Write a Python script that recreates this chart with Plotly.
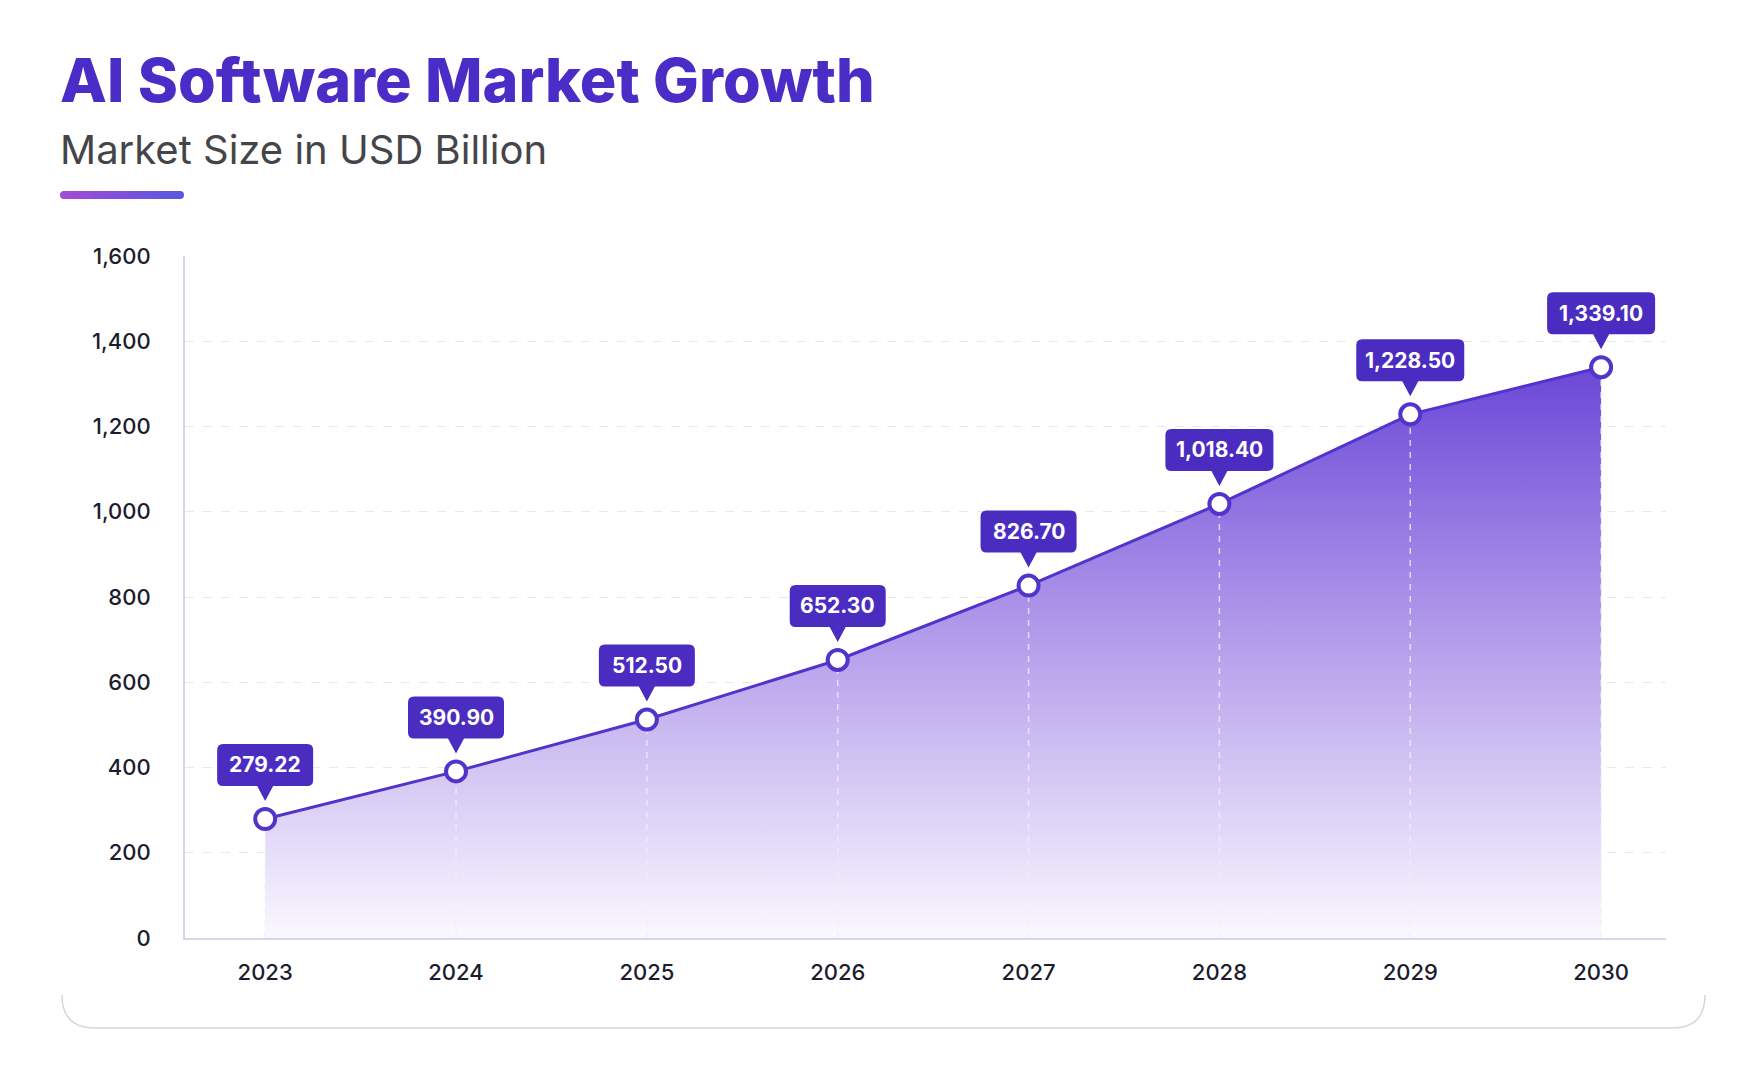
import plotly.graph_objects as go

# Data
years = [2023, 2024, 2025, 2026, 2027, 2028, 2029, 2030]
market_size = [279.22, 390.90, 512.50, 652.30, 826.70, 1018.40, 1228.50, 1339.10]
y_ticks = [0, 200, 400, 600, 800, 1000, 1200, 1400, 1600]

title_text = "AI Software Market Growth"
subtitle_text = "Market Size in USD Billion"

# Colours
purple_title = "#4a2cc6"
purple_line = "#5134cc"
purple_label = "#4a2cc0"
tick_color = "#1c1c2e"
axis_color = "#d8d4ee"
grid_color = "#e8e8ef"

# Page geometry. The page body adds an 8px margin, so the figure is a bit
# smaller than the window and every page position is shifted back by OFF.
OFF = 8
W, H = 1748, 1064
plot_left, plot_right, plot_top, plot_bottom = 185, 1666, 256, 938
L = plot_left - OFF
T = plot_top - OFF
R = W - (plot_right - OFF)
B = H - (plot_bottom - OFF)
PW = W - L - R
PH = H - T - B


def fx(p):
    # page x pixel -> paper fraction
    return (p - OFF - L) / PW


def fy(p):
    # page y pixel -> paper fraction
    return (H - B - (p - OFF)) / PH


fig = go.Figure()

# gradient area under the line
fig.add_trace(go.Scatter(
    x=years, y=market_size,
    mode="none",
    fill="tozeroy",
    fillgradient=dict(
        type="vertical",
        colorscale=[[0, "#faf8ff"], [0.3, "#d2c5f3"], [0.65, "#a286e6"], [1, "#6b47d7"]],
        start=0, stop=max(market_size),
    ),
    hoverinfo="skip",
    showlegend=False,
))

# dashed drop lines from each point
drop_x, drop_y = [], []
for yr, v in zip(years, market_size):
    drop_x += [yr, yr, None]
    drop_y += [0, v, None]
fig.add_trace(go.Scatter(
    x=drop_x, y=drop_y,
    mode="lines",
    line=dict(color="rgba(240,238,250,0.8)", width=1.5, dash="6px,6px"),
    hoverinfo="skip",
    showlegend=False,
))

# line with ring markers
fig.add_trace(go.Scatter(
    x=years, y=market_size,
    mode="lines+markers",
    line=dict(color=purple_line, width=3),
    marker=dict(size=20, color="white", line=dict(color=purple_line, width=4)),
    showlegend=False,
))

shapes = []
annotations = []

# callout labels
for yr, v in zip(years, market_size):
    label = f"{v:,.2f}"
    w = 60 + 6 * len(label)
    hw = w / 2
    r = 6
    top, bot, tip, pw = 75, 33, 18, 8
    path = (
        f"M {-hw + r},{top} L {hw - r},{top} Q {hw},{top} {hw},{top - r} "
        f"L {hw},{bot + r} Q {hw},{bot} {hw - r},{bot} "
        f"L {pw},{bot} L 0,{tip} L {-pw},{bot} "
        f"L {-hw + r},{bot} Q {-hw},{bot} {-hw},{bot + r} "
        f"L {-hw},{top - r} Q {-hw},{top} {-hw + r},{top} Z"
    )
    shapes.append(dict(
        type="path", path=path,
        xref="x", yref="y",
        xsizemode="pixel", ysizemode="pixel",
        xanchor=yr, yanchor=v,
        fillcolor=purple_label, line=dict(width=0),
        layer="above",
    ))
    annotations.append(dict(
        x=yr, y=v, xref="x", yref="y",
        text=label, showarrow=False,
        yshift=54,
        font=dict(family="Inter", size=21, color="white", weight=700),
    ))

# title and subtitle
annotations.append(dict(
    x=fx(58), y=fy(80), xref="paper", yref="paper",
    xanchor="left", yanchor="middle",
    text=title_text, showarrow=False,
    font=dict(family="Inter", size=61, color=purple_title, weight=800),
))
annotations.append(dict(
    x=fx(58), y=fy(150), xref="paper", yref="paper",
    xanchor="left", yanchor="middle",
    text=subtitle_text, showarrow=False,
    font=dict(family="Inter", size=40, color="#454549"),
))

# gradient accent bar under the subtitle
c0 = (0xa2, 0x4a, 0xd8)
c1 = (0x5a, 0x57, 0xe2)
bar_x0, bar_x1, bar_y, bar_h = 64, 180, 195, 8
n_seg = 24
seg = (bar_x1 - bar_x0) / n_seg
for i in range(n_seg):
    t = i / (n_seg - 1)
    col = "rgb({},{},{})".format(*[round(a + (b - a) * t) for a, b in zip(c0, c1)])
    shapes.append(dict(
        type="rect", xref="paper", yref="paper",
        x0=fx(bar_x0 + i * seg), x1=fx(bar_x0 + (i + 1) * seg + 0.8),
        y0=fy(bar_y + bar_h / 2), y1=fy(bar_y - bar_h / 2),
        fillcolor=col, line=dict(width=0), layer="below",
    ))
for cx, col in [(bar_x0, c0), (bar_x1, c1)]:
    shapes.append(dict(
        type="circle", xref="paper", yref="paper",
        x0=fx(cx - bar_h / 2), x1=fx(cx + bar_h / 2),
        y0=fy(bar_y + bar_h / 2), y1=fy(bar_y - bar_h / 2),
        fillcolor="rgb({},{},{})".format(*col), line=dict(width=0), layer="below",
    ))

# card bottom edge
card_path = (
    f"M {fx(62)},{fy(995)} Q {fx(62)},{fy(1028)} {fx(95)},{fy(1028)} "
    f"L {fx(1672)},{fy(1028)} Q {fx(1705)},{fy(1028)} {fx(1705)},{fy(995)}"
)
shapes.append(dict(
    type="path", path=card_path, xref="paper", yref="paper",
    line=dict(color="#d6d6de", width=1.5), layer="below",
))

fig.update_layout(
    width=W, height=H,
    margin=dict(l=L, r=R, t=T, b=B, autoexpand=False),
    paper_bgcolor="white",
    plot_bgcolor="white",
    font=dict(family="Inter", color=tick_color),
    shapes=shapes,
    annotations=annotations,
    xaxis=dict(
        range=[years[0] - 0.42, years[-1] + 0.34],
        tickvals=years,
        tickformat="d",
        showgrid=False,
        zeroline=False,
        showline=True, linecolor=axis_color, linewidth=2,
        ticks="",
        ticklabelstandoff=14,
        tickfont=dict(family="Inter", size=22, color=tick_color, weight=500),
        fixedrange=True,
    ),
    yaxis=dict(
        range=[0, 1600],
        tickvals=y_ticks,
        tickformat=",",
        showgrid=True, gridcolor=grid_color, griddash="dash", gridwidth=1,
        zeroline=False,
        showline=True, linecolor=axis_color, linewidth=2,
        ticks="",
        ticklabelstandoff=28,
        tickfont=dict(family="Inter", size=22, color=tick_color, weight=500),
        fixedrange=True,
    ),
)

fig.write_html("out.html")
